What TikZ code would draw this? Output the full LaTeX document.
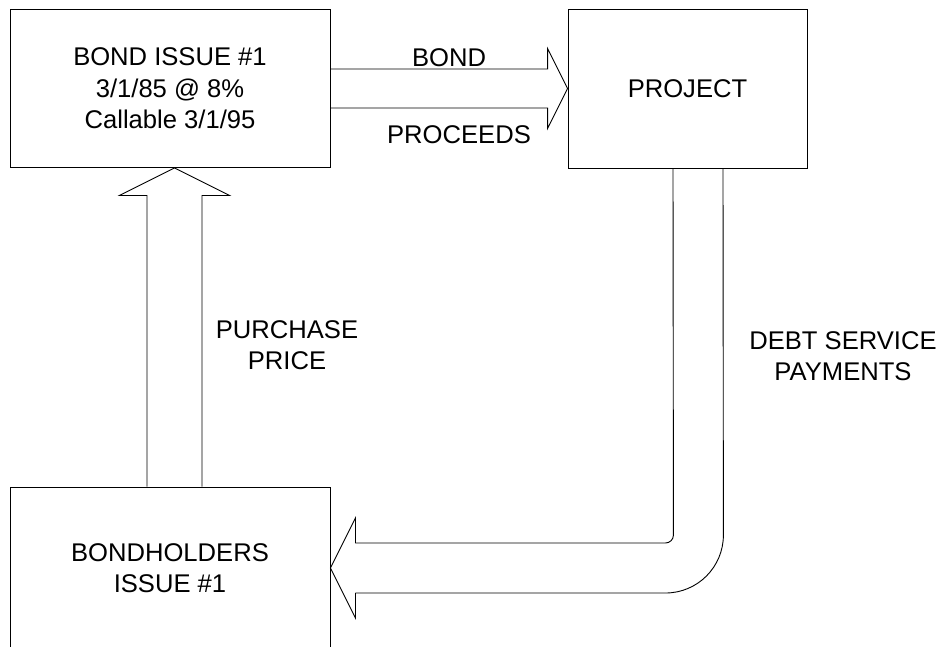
\documentclass[tikz,border=0pt]{standalone}
\usepackage{fontspec}
\setmainfont{Liberation Sans}
\usetikzlibrary{calc}
\begin{document}
\begin{tikzpicture}[x=1pt,y=-1pt,line width=0.9pt,line join=miter,
  box/.style={draw=black, rectangle, inner sep=0pt, align=center, font=\fontsize{25.6}{31.5}\selectfont},
  lbl/.style={inner sep=0pt, align=center, font=\fontsize{25.6}{31.5}\selectfont},
  blockarrow/.style={draw=black}]
\useasboundingbox (0,0) rectangle (947,646);
\clip (0,0) rectangle (947,646);
% boxes
\node[box, minimum width=320pt, minimum height=158pt] (issue) at (170,88.5)
  {BOND ISSUE \#1\\3/1/85 @ 8\%\\Callable 3/1/95};
\node[box, minimum width=239pt, minimum height=159pt] (project) at (687.5,88.5) {PROJECT};
\node[box, minimum width=320pt, minimum height=162pt] (holders) at (170,568)
  {BONDHOLDERS\\ISSUE \#1};
% labels
\node[lbl, anchor=base] (lbond) at (449,66) {BOND};
\node[lbl, anchor=base] (lproc) at (459,143) {PROCEEDS};
\node[lbl] (lprice) at (287,345) {PURCHASE\\PRICE};
\node[lbl] (ldebt) at (843,356) {DEBT SERVICE\\PAYMENTS};
% bond proceeds arrow
\draw[blockarrow] ($(issue.east)+(0,-19.5)$) -- ($(project.west)+(-20,-19.5)$)
  -- ($(project.west)+(-20,-40)$) -- (project.west) -- ($(project.west)+(-20,40)$)
  -- ($(project.west)+(-20,19.5)$) -- ($(issue.east)+(0,19.5)$);
% purchase price arrow
\coordinate (ptip) at ($(issue.south)+(4.5,0)$);
\coordinate (pbase) at ($(holders.north)+(4.5,0)$);
\draw[blockarrow] ($(pbase)+(-27.5,0)$) -- ($(ptip)+(-27.5,27.5)$) -- ($(ptip)+(-55,27.5)$)
  -- (ptip) -- ($(ptip)+(55,27.5)$) -- ($(ptip)+(27.5,27.5)$) -- ($(pbase)+(27.5,0)$);
% debt service arrow
\coordinate (rtip) at (holders.east);
\coordinate (rin) at ($(project.south)+(-14.5,0)$);
\coordinate (rout) at ($(project.south)+(35.5,0)$);
\draw[blockarrow, rounded corners=8pt] (rin) -- ($(rtip)+(343,-25)$) -- ($(rtip)+(25,-25)$);
\draw[blockarrow] ($(rtip)+(25,-25)$) -- ($(rtip)+(25,-50)$) -- (rtip)
  -- ($(rtip)+(25,50)$) -- ($(rtip)+(25,25)$);
\draw[blockarrow, rounded corners=58pt] ($(rtip)+(25,25)$) -- ($(rtip)+(393,25)$) -- (rout);
\end{tikzpicture}
\end{document}
